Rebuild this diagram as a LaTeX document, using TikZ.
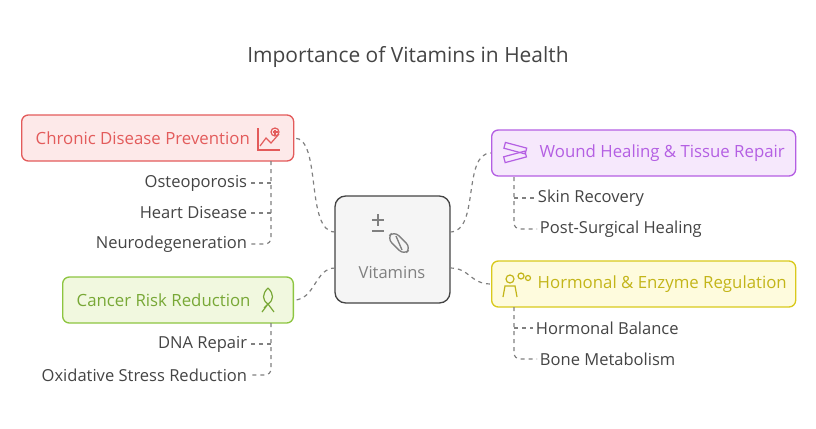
\documentclass[tikz,border=0pt]{standalone}
\usepackage{fontspec}
\setmainfont{Open Sans}
\usetikzlibrary{positioning}
\definecolor{redline}{HTML}{E35B5B}\definecolor{redfill}{HTML}{FDE9E9}
\definecolor{grnline}{HTML}{8DC540}\definecolor{grnfill}{HTML}{F1F8DF}
\definecolor{purline}{HTML}{B45FE3}\definecolor{purfill}{HTML}{F6E8FC}
\definecolor{yelline}{HTML}{D9C91C}\definecolor{yelfill}{HTML}{FEFBDD}
\definecolor{txtgray}{HTML}{444444}
\tikzset{
  topic/.style={draw=#1line, fill=#1fill, line width=1pt, rounded corners=5pt, minimum height=34.5pt, anchor=west, inner sep=0pt},
  item/.style={text=txtgray, font=\fontsize{12.4}{14}\selectfont, inner sep=2pt},
  link/.style={draw=gray, dashed, line width=0.9pt, dash pattern=on 3pt off 3pt},
}
\begin{document}
\begin{tikzpicture}[x=0.75pt,y=-0.75pt]
\useasboundingbox (0,0) rectangle (816,428);
\node[text=txtgray, font=\fontsize{15.7}{18}\selectfont] (title) at (408,57) {Importance of Vitamins in Health};

% centre
\draw[draw=txtgray, fill=gray!8, line width=1pt, rounded corners=8pt] (335,196) rectangle (450,303);
\node[text=gray, font=\fontsize{12.4}{14}\selectfont] (vit) at (392,273) {Vitamins};
\coordinate (cl1) at (335,232); \coordinate (cl2) at (335,268);
\coordinate (cr1) at (450,232); \coordinate (cr2) at (450,268);
\begin{scope}[draw=gray, line width=1pt]
  \draw (372,220) -- (384,220) (378,214) -- (378,226) (372,231) -- (384,231);
  \draw[rotate around={-45:(399,243)}, rounded corners=5pt] (387,238) rectangle (411,248);
  \draw (396,236) -- (402,250);
\end{scope}

% boxes
\node[topic=red, minimum width=204pt] (chronic) at (21,138) {};
\node[text=redline, font=\fontsize{12.6}{14}\selectfont, anchor=west] at (31,138) {Chronic Disease Prevention};
\node[topic=grn, minimum width=173pt] (cancer) at (62,300) {};
\node[text=grnline!85!black, font=\fontsize{12.6}{14}\selectfont, anchor=west] at (72,300) {Cancer Risk Reduction};
\node[topic=pur, minimum width=228pt] (wound) at (491,153) {};
\node[text=purline, font=\fontsize{12.6}{14}\selectfont, anchor=west] at (535,153) {Wound Healing \& Tissue Repair};
\node[topic=yel, minimum width=228pt] (hormon) at (491,284) {};
\node[text=yelline!90!black, font=\fontsize{12.6}{14}\selectfont, anchor=west] at (533,284) {Hormonal \& Enzyme Regulation};

% icons
\begin{scope}[draw=redline, line width=0.9pt]
  \draw (258,128) -- (258,150) -- (280,150);
  \draw (260,146) -- (266,138) -- (271,143) -- (279,134);
  \draw (275,132) circle (4);
  \draw (275,129.5) -- (275,134.5) (272.5,132) -- (277.5,132);
\end{scope}
\begin{scope}[draw=grnline!85!black, line width=0.9pt]
  \draw (268,288) .. controls (262,294) and (262,300) .. (268,304) .. controls (274,300) and (274,294) .. (268,288);
  \draw (264,308) -- (268,304) -- (274,312) (262,312) -- (268,304);
\end{scope}
\begin{scope}[draw=purline, line width=0.9pt]
  \draw[rotate around={-15:(514,153)}] (503,145) rectangle (525,151);
  \draw[rotate around={15:(514,153)}] (503,154) rectangle (525,160);
\end{scope}
\begin{scope}[draw=yelline!90!black, line width=0.9pt]
  \draw (510,279) circle (4);
  \draw (503,297) -- (505,286) -- (515,286) -- (517,297);
  \draw (521,276) circle (3) (528,278) circle (2.5);
\end{scope}

% items
\node[item, anchor=east] (osteo) at (250,183) {Osteoporosis};
\node[item, anchor=east] (heart) at (250,213) {Heart Disease};
\node[item, anchor=east] (neuro) at (250,244) {Neurodegeneration};
\node[item, anchor=east] (dna) at (250,344) {DNA Repair};
\node[item, anchor=east] (oxid) at (250,375) {Oxidative Stress Reduction};
\node[item, anchor=west] (skin) at (535,198) {Skin Recovery};
\node[item, anchor=west] (post) at (537,229) {Post-Surgical Healing};
\node[item, anchor=west] (hbal) at (533,328) {Hormonal Balance};
\node[item, anchor=west] (bone) at (537,359) {Bone Metabolism};

% item links
\draw[link] (271,161) -- (271,238) arc (0:90:6) -- (neuro.east);
\draw[link] (271,183) -- (osteo.east) (271,213) -- (heart.east);
\draw[link] (271,323) -- (271,369) arc (0:90:6) -- (oxid.east);
\draw[link] (271,344) -- (dna.east);
\draw[link] (514,177) -- (514,223) arc (180:90:6) -- (post.west);
\draw[link] (514,198) -- (skin.west);
\draw[link] (514,307) -- (514,353) arc (180:90:6) -- (bone.west);
\draw[link] (514,328) -- (hbal.west);

% main links
\draw[link] (cl1) .. controls (305,232) and (322,138) .. (chronic.east);
\draw[link] (cl2) .. controls (315,268) and (315,300) .. (cancer.east);
\draw[link] (cr1) .. controls (480,232) and (462,153) .. (wound.west);
\draw[link] (cr2) .. controls (470,268) and (470,284) .. (hormon.west);
\end{tikzpicture}
\end{document}
